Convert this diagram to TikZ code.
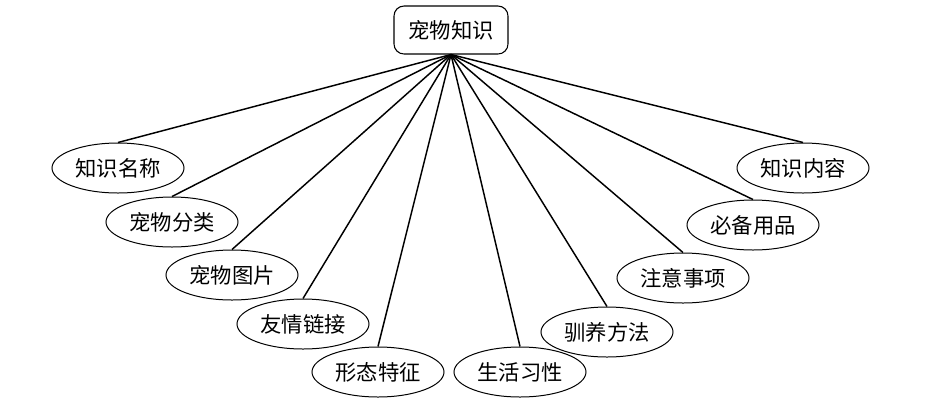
\documentclass[tikz,border=0pt]{standalone}
\usepackage{fontspec}
\setmainfont{Noto Sans CJK SC}
\usepackage{tikz}
\usetikzlibrary{shapes.geometric}

\tikzset{
	topic/.style={draw, thick, rounded corners=7.5pt, minimum width=85.5pt, minimum height=36pt, inner sep=0pt, font=\fontsize{16}{19}\selectfont},
	leaf/.style={draw, line width=0.75pt, ellipse, minimum width=99pt, minimum height=37.5pt, inner sep=0pt, font=\fontsize{16}{19}\selectfont},
	link/.style={line width=1.1pt}
}

\begin{document}
\begin{tikzpicture}[x=0.75pt, y=-0.75pt]
			\useasboundingbox (0,0) rectangle (926,412);
			\node[topic] (pet) at (451,30) {宠物知识};
			\node[leaf] (name) at (118,168) {知识名称};
			\node[leaf] (kind) at (172,222) {宠物分类};
			\node[leaf] (pic) at (232,275) {宠物图片};
			\node[leaf] (friend) at (303,324) {友情链接};
			\node[leaf] (form) at (378,372) {形态特征};
			\node[leaf] (habit) at (520,372) {生活习性};
			\node[leaf] (train) at (607,332) {驯养方法};
			\node[leaf] (note) at (683,278) {注意事项};
			\node[leaf] (supply) at (753,225) {必备用品};
			\node[leaf] (content) at (803,168) {知识内容};
			\draw[link] (pet.south) -- (name.north);
			\draw[link] (pet.south) -- (kind.north);
			\draw[link] (pet.south) -- (pic.north);
			\draw[link] (pet.south) -- (friend.north);
			\draw[link] (pet.south) -- (form.north);
			\draw[link] (pet.south) -- (habit.north);
			\draw[link] (pet.south) -- (train.north);
			\draw[link] (pet.south) -- (note.north);
			\draw[link] (pet.south) -- (supply.north);
			\draw[link] (pet.south) -- (content.north);
		\end{tikzpicture}
\end{document}
